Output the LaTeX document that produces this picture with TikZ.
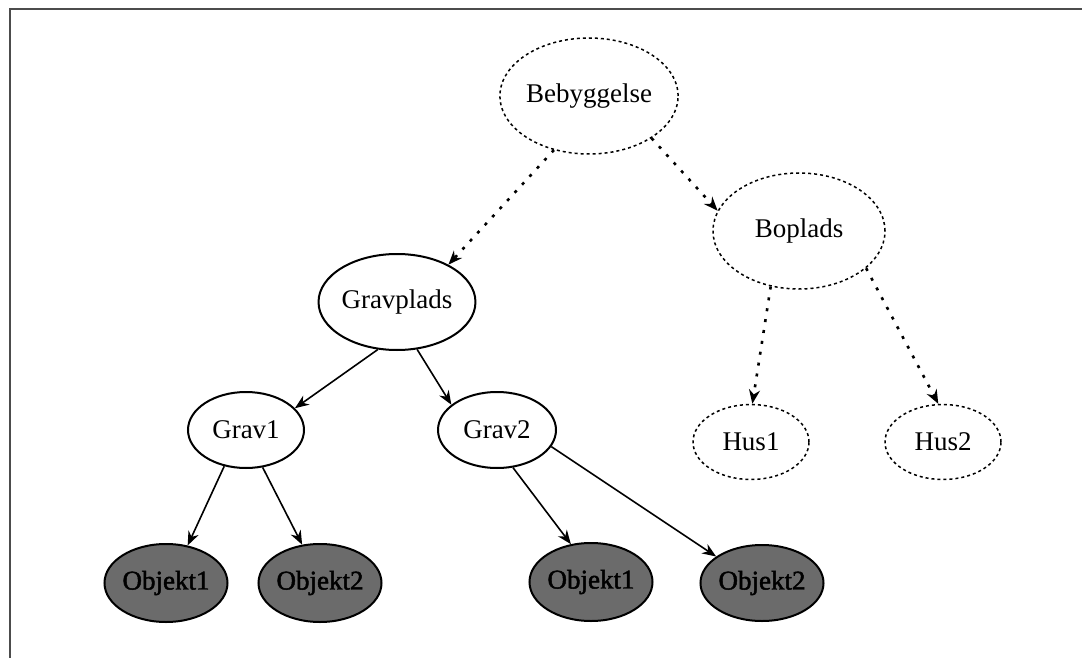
\documentclass[tikz,border=0pt]{standalone}
\usepackage{fontspec}
\setmainfont{Liberation Serif}
\newfontfamily\objfont{Liberation Serif}[FakeBold=1.8]
\usetikzlibrary{shapes.geometric,arrows.meta}
\begin{document}
\begin{tikzpicture}[x=1pt,y=-1pt,
  every node/.style={font=\fontsize{27}{32}\selectfont},
  solidell/.style={ellipse,draw=black,line width=2pt,fill=white,inner sep=0pt},
  dashell/.style={ellipse,draw=black,line width=1.5pt,dash pattern=on 3pt off 3pt,inner sep=0pt},
  objell/.style={ellipse,draw=black,line width=2pt,fill=black!58,inner sep=0pt,
     minimum width=118pt,minimum height=78pt,font=\fontsize{27}{32}\selectfont\objfont},
  solidarrow/.style={line width=1.6pt,-{Stealth[length=14pt,width=11pt]}},
  dotarrow/.style={line width=2.6pt,dash pattern=on 3pt off 8pt,-{Stealth[length=14pt,width=11pt]}},
]
\useasboundingbox (0,0) rectangle (1082,658);
\coordinate (frTL) at (10,9);
\coordinate (frTR) at (1082,9);
\coordinate (frBL) at (10,658);
\draw[line width=2.2pt,black!70] (frTR) -- (frTL) -- (frBL);

\node[dashell,minimum width=172pt,minimum height=116pt] (beb) at (589,96) {Bebyggelse};
\node[dashell,minimum width=172pt,minimum height=116pt] (bop) at (799,231) {Boplads};
\node[solidell,minimum width=140pt,minimum height=96pt] (grp) at (397,302) {Gravplads};
\node[solidell,minimum width=116pt,minimum height=76pt] (g1) at (246,430) {Grav1};
\node[solidell,minimum width=118pt,minimum height=76pt] (g2) at (497,430) {Grav2};
\node[dashell,minimum width=116pt,minimum height=75pt] (hus1) at (751,442) {Hus1};
\node[dashell,minimum width=116pt,minimum height=75pt] (hus2) at (943,442) {Hus2};
\node[objell] (o1) at (166,583) {Objekt1};
\node[objell] (o2) at (320,583) {Objekt2};
\node[objell] (o3) at (591,582) {Objekt1};
\node[objell,minimum width=116pt,minimum height=76pt] (o4) at (762,583) {Objekt2};

\draw[dotarrow] (beb.237) -- (grp.36);
\draw[dotarrow] (beb.326) -- (bop.166);
\draw[dotarrow] (bop.243) -- (hus1.88);
\draw[dotarrow] (bop.331) -- (hus2.97);

\draw[solidarrow] (grp.248) -- (g1.24);
\draw[solidarrow] (grp.293) -- (g2.151);
\draw[solidarrow] (g1.239) -- (o1.60);
\draw[solidarrow] (g1.294) -- (o2.115);
\draw[solidarrow] (g2.293) -- (o3.118);
\draw[solidarrow] (g2.343) -- (o4.150);
\end{tikzpicture}
\end{document}
